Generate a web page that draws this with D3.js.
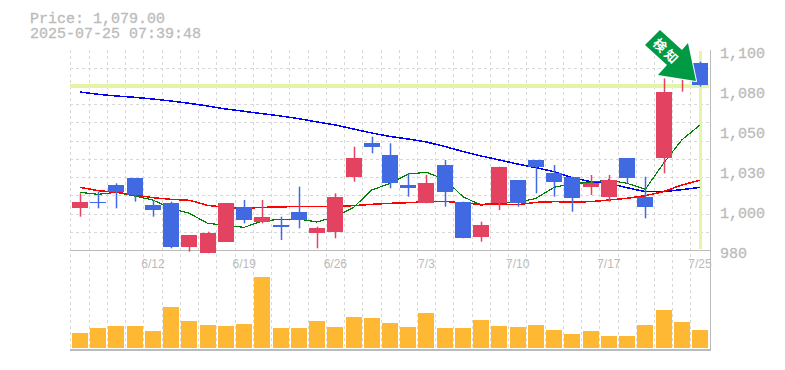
<!DOCTYPE html>
<html>
<head>
<meta charset="utf-8">
<script src="https://cdn.jsdelivr.net/npm/d3@7"></script>
<style>
  html, body { margin: 0; padding: 0; background: #fff; }
  svg { display: block; }
  text { fill: #bbb; }
  .mono { font-family: "Liberation Mono", monospace; font-size: 15px; stroke: #bbb; stroke-width: 0.3px; }
  .x.axis text { font-family: "Liberation Sans", Arial, sans-serif; font-size: 12px; }
</style>
</head>
<body>
<svg width="785" height="370"></svg>
<script>
var dates = ["6/6","6/9","6/10","6/11","6/12","6/13","6/16","6/17","6/18","6/19","6/20","6/23","6/24","6/25","6/26","6/27","6/30","7/1","7/2","7/3","7/4","7/7","7/8","7/9","7/10","7/11","7/14","7/15","7/16","7/17","7/18","7/22","7/23","7/24","7/25"];

var opens  = [1005,1009,1019,1023,1007,1008,982,978,985,1006,997,995,1003,990,991,1024,1044,1037,1019,1008,1031,1009,988,1008,1022,1034,1026,1024,1018,1012,1035,1012,1035,1083,1092];
var closes = [1009,1008,1015,1013,1004,982,989,990,1008,998,1000,994,998,993,1012,1035,1042,1020,1017,1020,1015,987,995,1030,1008,1030,1021,1011,1020,1022,1023,1006,1075,1094,1079];
var highs  = [1014,1015,1020,1023,1010,1009,989,991,1008,1010,1010,1000,1018,994,1014,1042,1048,1044,1026,1025,1034,1009,997,1030,1022,1034,1031,1024,1025,1025,1035,1024,1083,1096,1093];
var lows   = [1000,1005,1005,1009,1000,981,979,978,985,996,996,986,993,981,987,1021,1038,1017,1012,1008,1006,987,985,1004,1006,1014,1012,1003,1013,1009,1020,999,1026,1075,1078];

var ma5  = [1014.6,1013.4,1014.6,1012.4,1010,1005,1002,996,994.8,993.6,997.4,998.4,998.6,996.8,1000,1005.6,1016,1020,1025.6,1026.6,1022.4,1012,1006.8,1009,1008.4,1011,1017.6,1019.8,1020.6,1022,1020,1016.4,1032,1046,1055];
var ma25 = [1017.6,1015.6,1014.6,1013,1011.4,1010.4,1009.8,1006.8,1005.6,1005,1005.6,1005.8,1006.2,1006.2,1006.2,1006.6,1007.4,1008,1008.4,1009,1009.2,1008.2,1007.4,1007.6,1007.2,1008.6,1009,1008.8,1009,1010,1011,1012.6,1015,1019,1021.8];
var ma75 = [1074.8,1073.4,1072.4,1071.6,1070.6,1069.4,1068,1066.4,1064.6,1063.2,1061.8,1060.4,1058.8,1056.8,1055,1052.6,1050.2,1048.1,1046.6,1044.8,1042.1,1039.1,1036.4,1034,1031.6,1029.4,1027,1023.4,1021,1020,1017.4,1015,1015,1016.2,1017.6];

var volumes = [1500,2000,2200,2200,1700,4100,2700,2300,2200,2400,7100,2000,2000,2700,2100,3100,3000,2500,2100,3500,2000,2000,2800,2200,2100,2300,1800,1400,1700,1200,1200,2300,3800,2600,1800];

var xTickDates = ["6/12","6/19","6/26","7/3","7/10","7/17","7/25"];
var yTickValues = [980,1004,1028,1052,1076,1100];
var yTickLabels = ["980","1,000","1,030","1,050","1,080","1,100"];
var currentPrice = 1079;
var priceLabel = "Price: 1,079.00";
var timeLabel = "2025-07-25 07:39:48";

var svg = d3.select("svg");
var left = 70.9, right = 709.1;
var chartBottom = 250, chartTop = 50, volBottom = 348, volTop = 277;

var x = d3.scaleBand()
    .domain(dates)
    .range([left, right])
    .paddingInner(0.1226)
    .paddingOuter(0.0613);

var y = d3.scaleLinear().domain([980, 1100]).range([chartBottom, chartTop]);
var yVol = d3.scaleLinear().domain([0, d3.max(volumes)]).range([volBottom, volTop]);

var cx = function(d) { return x(d) + x.bandwidth() / 2; };
var snap = function(v) { return Math.round(v); };

// grid, same step both ways
var gridX = dates.map(function(d) { return Math.round(x(d) - 1.5) + 0.5; });
gridX[0] = 70.5;
var gridY = d3.range(0, 11).map(function(i) { return Math.round(chartBottom - x.step() * i) + 0.5; }).slice(1);

var grid = svg.append("g")
    .attr("stroke", "#d8d8d8")
    .attr("stroke-dasharray", "3,3")
    .attr("shape-rendering", "crispEdges");

grid.selectAll(".gv").data(gridX).enter().append("line")
    .attr("x1", function(d) { return d; })
    .attr("x2", function(d) { return d; })
    .attr("y1", chartTop)
    .attr("y2", volBottom + 1);

grid.selectAll(".gh").data(gridY).enter().append("line")
    .attr("x1", 70)
    .attr("x2", 710)
    .attr("y1", function(d) { return d; })
    .attr("y2", function(d) { return d; });

// current price cross
var cross = svg.append("g").attr("stroke", "#e4f5a8").attr("shape-rendering", "crispEdges");
cross.append("line")
    .attr("stroke-width", 4)
    .attr("x1", 70).attr("x2", 709)
    .attr("y1", Math.round(y(currentPrice)) + 0.5).attr("y2", Math.round(y(currentPrice)) + 0.5);
cross.append("line")
    .attr("stroke-width", 3)
    .attr("x1", snap(cx("7/25")) + 0.5).attr("x2", snap(cx("7/25")) + 0.5)
    .attr("y1", chartTop + 1).attr("y2", chartBottom - 1);

// axes
var xAxis = d3.axisBottom(x).tickValues(xTickDates).tickSize(0).tickPadding(9);
svg.append("g")
    .attr("class", "x axis")
    .attr("transform", "translate(0," + chartBottom + ")")
    .call(xAxis)
    .call(function(g) { g.select(".domain").remove(); });

var yAxis = d3.axisRight(y)
    .tickValues(yTickValues)
    .tickSize(0)
    .tickPadding(0)
    .tickFormat(function(d, i) { return yTickLabels[i]; });
svg.append("g")
    .attr("class", "y axis mono")
    .attr("transform", "translate(720,3)")
    .call(yAxis)
    .call(function(g) {
        g.select(".domain").remove();
        g.selectAll("text").attr("font-family", null).attr("font-size", null);
        g.attr("font-family", null).attr("font-size", null);
    });

// frame
var frame = svg.append("g").attr("stroke", "#bbb").attr("shape-rendering", "crispEdges").attr("stroke-width", 1);
frame.append("line").attr("x1", 70).attr("x2", 711).attr("y1", chartBottom + 0.5).attr("y2", chartBottom + 0.5);
frame.append("line").attr("x1", 70).attr("x2", 711).attr("y1", volBottom + 2).attr("y2", volBottom + 2).attr("stroke-width", 2);
frame.append("line").attr("x1", 710.5).attr("x2", 710.5).attr("y1", chartTop).attr("y2", volBottom + 3);

// volume
svg.append("g").selectAll("rect").data(dates).enter().append("rect")
    .attr("x", function(d) { return snap(x(d)); })
    .attr("width", x.bandwidth())
    .attr("y", function(d, i) { return yVol(volumes[i]); })
    .attr("height", function(d, i) { return volBottom - yVol(volumes[i]); })
    .attr("fill", "#ffb833")
    .attr("shape-rendering", "crispEdges");

// moving averages, candles go on top of them
var line = d3.line()
    .x(function(d, i) { return cx(dates[i]); })
    .y(function(d) { return y(d); });

var maLines = [
    { values: ma75, color: "#0000ff", width: 1.5 },
    { values: ma5, color: "#008000", width: 1.2 },
    { values: ma25, color: "#ff0000", width: 1.5 }
];
svg.append("g").selectAll("path").data(maLines).enter().append("path")
    .attr("d", function(d) { return line(d.values); })
    .attr("fill", "none")
    .attr("stroke", function(d) { return d.color; })
    .attr("stroke-width", function(d) { return d.width; })
    .attr("shape-rendering", "crispEdges");

// candles
var candleColor = function(i) { return closes[i] >= opens[i] ? "#e34360" : "#4169e1"; };
var candles = svg.append("g");

candles.selectAll(".wick").data(dates).enter().append("line")
    .attr("x1", function(d) { return snap(cx(d)) + 0.5; })
    .attr("x2", function(d) { return snap(cx(d)) + 0.5; })
    .attr("y1", function(d, i) { return y(highs[i]); })
    .attr("y2", function(d, i) { return y(lows[i]); })
    .attr("stroke", function(d, i) { return candleColor(i); })
    .attr("stroke-width", 1.5);

candles.selectAll(".body").data(dates).enter().append("rect")
    .attr("x", function(d) { return snap(x(d)); })
    .attr("width", x.bandwidth())
    .attr("y", function(d, i) { return y(Math.max(opens[i], closes[i])); })
    .attr("height", function(d, i) { return Math.abs(y(opens[i]) - y(closes[i])); })
    .attr("fill", function(d, i) { return candleColor(i); })
    .attr("shape-rendering", "crispEdges");

// arrow marker, tip placed from the last candle
var arrow = svg.append("g")
    .attr("transform", "translate(" + (cx("7/25") - 4) + "," + (y(currentPrice) - 4) + ")");

arrow.append("polygon")
    .attr("points", "-36,-51 -51,-36 -29,-16 -38,-6 0,0 -8,-38 -14,-31")
    .attr("fill", "#009a44")
    .attr("stroke", "#fff")
    .attr("stroke-width", 2)
    .attr("stroke-linejoin", "round")
    .style("paint-order", "stroke");

arrow.append("text")
    .attr("transform", "translate(-29.5,-29) rotate(45)")
    .attr("text-anchor", "middle")
    .attr("dy", "0.35em")
    .attr("font-family", "'Noto Sans CJK JP', sans-serif")
    .attr("font-size", 13)
    .attr("font-weight", "bold")
    .attr("letter-spacing", 3)
    .style("fill", "#fff")
    .text("検知");

// header
svg.append("text").attr("class", "mono").attr("x", 30).attr("y", 23).text(priceLabel);
svg.append("text").attr("class", "mono").attr("x", 30).attr("y", 38).text(timeLabel);
</script>
</body>
</html>
